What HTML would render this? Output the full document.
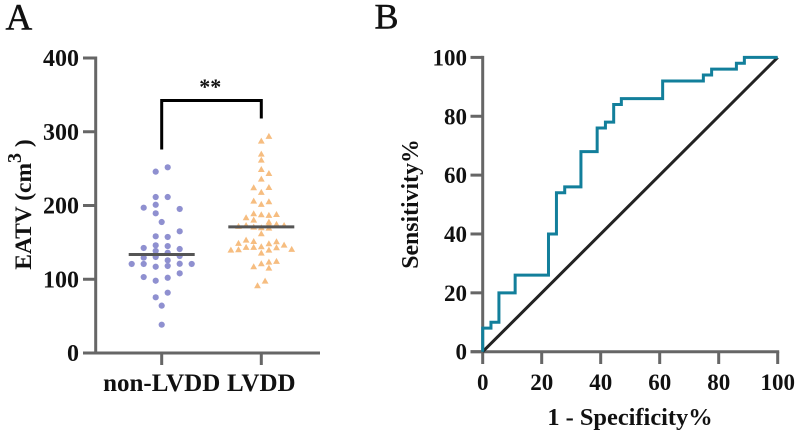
<!DOCTYPE html>
<html>
<head>
<meta charset="utf-8">
<title>EATV and ROC chart</title>
<style>
html,body{margin:0;padding:0;background:#fff;width:800px;height:435px;overflow:hidden}
svg{display:block}
text{font-family:"Liberation Serif",serif;font-weight:bold;fill:#111}
</style>
</head>
<body>
<svg id="chart" width="800" height="435" viewBox="0 0 800 435" xmlns="http://www.w3.org/2000/svg">
  <text x="5.5" y="29.3" font-size="37" stroke="#111" stroke-width="0.5" style="font-weight:normal">A</text>
  <text x="374.5" y="28.5" font-size="36" stroke="#111" stroke-width="0.5" style="font-weight:normal">B</text>
  <g id="panelA"></g>
  <g id="panelB"></g>
  <text transform="translate(31,204.5) rotate(-90)" text-anchor="middle" font-size="23.5">EATV (cm<tspan dy="-10" font-size="20">3</tspan><tspan dy="10"> )</tspan></text>
  <text transform="translate(418,204) rotate(-90)" text-anchor="middle" font-size="23.8">Sensitivity%</text>
  <text x="630" y="425" text-anchor="middle" font-size="24.4">1 - Specificity%</text>
  <text x="210.3" y="94" text-anchor="middle" font-size="22">**</text>
</svg>
<script>
const svgNS = 'http://www.w3.org/2000/svg';

const groupLabels = ['non-LVDD', 'LVDD'];
const eatvTicks = [0, 100, 200, 300, 400];
const rocTicks = [0, 20, 40, 60, 80, 100];

const nonLvddValues = [245.9,251.8,211.5,211.5,197,201,195.3,189.4,177.6,165,158.2,157.3,142.4,146,145,141,138.3,136,129.3,130.2,131.5,125.6,120.7,120.7,121,120.7,117,118,108,103,102,98,81.8,75.5,64.2,38.4];
const nonLvddSlots = [-0.5,0.5,-0.5,0.5,-1.5,-0.5,1.5,-0.5,0,1.5,-0.5,0.5,-1.5,-0.5,0.5,1.5,-0.5,0.5,-1.5,-0.5,1.5,0.5,-2.5,-1.5,1.5,2.5,-0.5,0.5,1.5,-1.5,0.5,-0.5,0.5,-0.5,0,0];
const nonLvddMedian = 133.5;

const lvddValues = [293.8,287.5,269.8,261.7,249,243.6,235.9,224.2,224.6,217.9,206.1,205.2,201.6,188.9,187.6,186.7,188,183.5,180.3,177.6,174.5,174.5,173.1,171.8,173.1,170.8,170,169.5,161.8,153.2,151.4,148.7,148.2,151,146.4,139.7,140.1,143.3,143.3,144.2,139.7,142.8,140.6,135.6,121.1,123.4,124.3,117.1,115.3,97.6,91.3];
const lvddSlots = [1,0,0,0,0,1,0,-1,1,0,-1,1,0,-1,0,1,2,-2,-1,1,1,2,3,-3,-2,-1,0,1,0,-2,-1,-3,1,2,3,-4,-3,-2,-1,0,1,2,4,0,0,1,2,-1,1,0.5,-0.5];
const lvddMedian = 171;

const rocFpr = [0,0,2.8,2.8,5.5,5.5,11,11,22.3,22.3,25,25,27.8,27.8,33.3,33.3,38.8,38.8,41.6,41.6,44.4,44.4,47,47,61,61,74.8,74.8,77.6,77.6,86,86,88.7,88.7,100];
const rocTpr = [0,8,8,10,10,20,20,26,26,40,40,54,54,56,56,68,68,76,76,78,78,84,84,86,86,92,92,94,94,96,96,98,98,100,100];

const chanceFpr = [0, 100];
const chanceTpr = [0, 100];

const AXIS = '#666666';
const yA = v => 353 - v * 0.7375;
const catA = i => 161.7 + i * 99.6;
const xB = v => 482.7 + v * 2.95;
const yB = v => 351.7 - v * 2.943;

function add(parent, tag, attrs, text) {
  const el = document.createElementNS(svgNS, tag);
  for (const k in attrs) el.setAttribute(k, attrs[k]);
  if (text !== undefined) el.textContent = text;
  parent.appendChild(el);
  return el;
}

const A = document.getElementById('panelA');
const B = document.getElementById('panelB');

/* Panel A axes */
let n = add(A, 'line', {x1: 95.7, y1: yA(400) - 1.5, x2: 95.7, y2: yA(0), stroke: AXIS, 'stroke-width': 3});


n = add(A, 'line', {x1: 83, y1: yA(0), x2: 320, y2: yA(0), stroke: AXIS, 'stroke-width': 3});



eatvTicks.forEach(t => {
  const tick = add(A, 'line', {x1: 83, y1: yA(t), x2: 95.7, y2: yA(t), stroke: AXIS, 'stroke-width': 3});
  
  
  const label = add(A, 'text', {x: 79, y: yA(t) + 8, 'text-anchor': 'end', 'font-size': 24}, String(t));
  
  
});

groupLabels.forEach((g, i) => {
  const tick = add(A, 'line', {x1: catA(i), y1: yA(0), x2: catA(i), y2: 365, stroke: AXIS, 'stroke-width': 3});
  
  
  const label = add(A, 'text', {x: catA(i), y: 391, 'text-anchor': 'middle', 'font-size': 25}, g);
  
  
});

/* Panel A points */
nonLvddValues.forEach((v, i) => {
  const c = add(A, 'circle', {cx: catA(0) + nonLvddSlots[i] * 12, cy: yA(v), r: 3.1, fill: '#8f90d0'});
  
  
});
lvddValues.forEach((v, i) => {
  const x = catA(1) + lvddSlots[i] * 7.6;
  const y = yA(v);
  const p = add(A, 'polygon', {points: `${x},${y - 3.4} ${x + 3.4},${y + 2.6} ${x - 3.4},${y + 2.6}`, fill: '#f6bd80'});
  
  
});

/* Panel A medians */
n = add(A, 'line', {x1: catA(0) - 33, y1: yA(nonLvddMedian), x2: catA(0) + 33, y2: yA(nonLvddMedian), stroke: '#555555', 'stroke-width': 3});


n = add(A, 'line', {x1: catA(1) - 33, y1: yA(lvddMedian), x2: catA(1) + 33, y2: yA(lvddMedian), stroke: '#555555', 'stroke-width': 3});



/* Significance bracket */
n = add(A, 'polyline', {points: `${catA(0)},149.5 ${catA(0)},100.5 ${catA(1)},100.5 ${catA(1)},118.5`, fill: 'none', stroke: '#000', 'stroke-width': 3});



/* Panel B axes */
n = add(B, 'line', {x1: xB(0), y1: yB(100) - 1.5, x2: xB(0), y2: yB(0), stroke: AXIS, 'stroke-width': 3});


n = add(B, 'line', {x1: 470.5, y1: yB(0), x2: xB(100) + 1.5, y2: yB(0), stroke: AXIS, 'stroke-width': 3});



rocTicks.forEach(t => {
  const yt = add(B, 'line', {x1: 470.5, y1: yB(t), x2: xB(0), y2: yB(t), stroke: AXIS, 'stroke-width': 3});
  
  
  const yl = add(B, 'text', {x: 467, y: yB(t) + 8, 'text-anchor': 'end', 'font-size': 23}, String(t));
  
  
  const xt = add(B, 'line', {x1: xB(t), y1: yB(0), x2: xB(t), y2: 364, stroke: AXIS, 'stroke-width': 3});
  
  
  const xl = add(B, 'text', {x: xB(t), y: 390, 'text-anchor': 'middle', 'font-size': 23}, String(t));
  
  
});

/* Panel B lines */
n = add(B, 'polyline', {points: chanceFpr.map((v, i) => xB(v) + ',' + yB(chanceTpr[i])).join(' '), fill: 'none', stroke: '#222222', 'stroke-width': 3});


n = add(B, 'polyline', {points: rocFpr.map((v, i) => xB(v) + ',' + yB(rocTpr[i])).join(' '), fill: 'none', stroke: '#127f9b', 'stroke-width': 3, 'stroke-linejoin': 'miter'});


</script>
</body>
</html>
